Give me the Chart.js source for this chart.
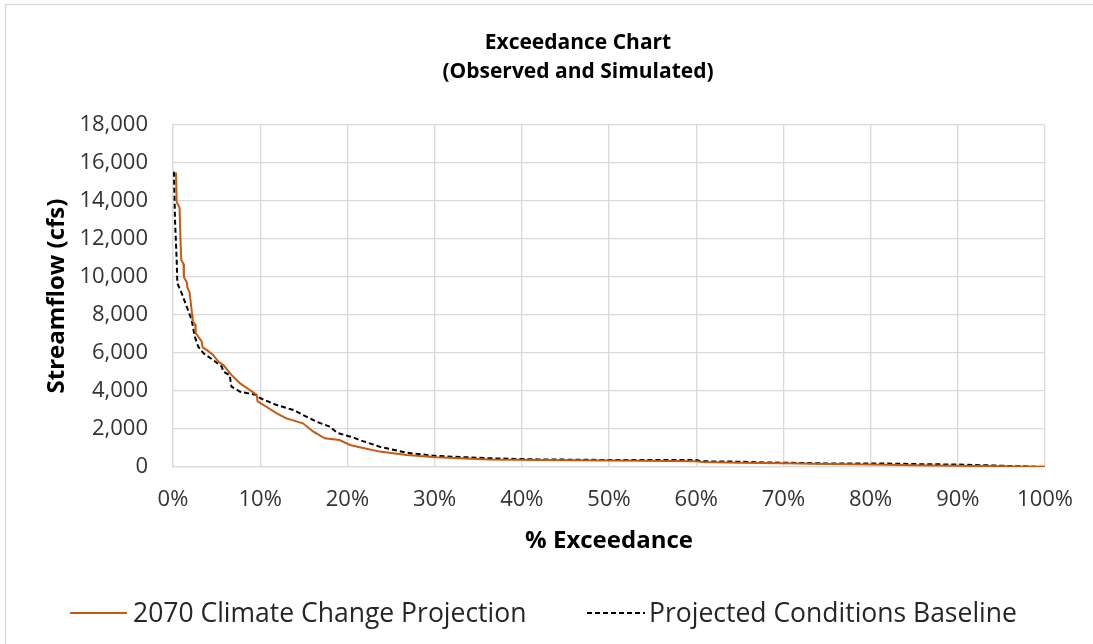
<!DOCTYPE html>
<html>
<head>
<title>Exceedance Chart</title>
<style>
  body { margin: 0; background: #fff; }
  #wrap { width: 1093px; height: 644px; }
</style>
</head>
<body>

<div id="wrap">
    <canvas id="myChart" width="1093" height="644"></canvas>
</div>

<script src="https://cdn.jsdelivr.net/npm/chart.js"></script>

<script>

    // % exceedance and streamflow (cfs)
    const climateX = [0.34, 0.42, 0.75, 0.85, 0.95, 1.2, 1.25, 1.6, 1.65, 1.9, 2.2, 2.25, 2.55, 2.6, 3.3, 3.4, 3.9, 4.6, 5.2, 5.8, 6.7, 7.7, 8.8, 9.6, 9.7, 10.7, 11.9, 13.0, 14.9, 16.1, 17.4, 19.1, 20.3, 21.8, 23.7, 26.8, 30.2, 36.3, 42, 53.5, 60, 60.7, 65, 70, 75, 80, 85, 90, 95, 100];
    const climateFlow = [15500, 13950, 13650, 12100, 10900, 10700, 10000, 9700, 9450, 9200, 8000, 7700, 7500, 7050, 6600, 6300, 6150, 5900, 5550, 5350, 4850, 4400, 4050, 3800, 3450, 3170, 2820, 2560, 2300, 1860, 1510, 1420, 1160, 1000, 810, 630, 510, 400, 370, 330, 300, 260, 230, 200, 160, 130, 90, 60, 40, 10];

    const baseX = [0.11, 0.23, 0.42, 0.5, 1.0, 1.57, 2.14, 2.5, 2.9, 3.5, 4.6, 5.6, 5.76, 6.5, 6.7, 7.7, 9.6, 10.0, 11.9, 13.8, 14.9, 16.5, 18.0, 18.8, 20.7, 21.4, 23.7, 26.8, 30.2, 36.3, 42, 49.7, 60, 60.7, 65, 67.2, 74.9, 81, 85.6, 90.1, 96.2, 100];
    const baseFlow = [15540, 13000, 10900, 9670, 9140, 8440, 7740, 6860, 6330, 5980, 5630, 5280, 5020, 4840, 4230, 3960, 3790, 3620, 3260, 3000, 2740, 2380, 2120, 1800, 1550, 1420, 1070, 750, 580, 460, 400, 370, 370, 300, 280, 245, 190, 190, 150, 130, 50, 0];

    const seriesNames = ['2070 Climate Change Projection', 'Projected Conditions Baseline'];
    const titleLines = ['Exceedance Chart', '(Observed and Simulated)'];

    const FONT = "'Open Sans', Lato, sans-serif";
    const GRID = '#d9d9d9';

    function toPoints(xs, ys) {
        return xs.map((x, i) => ({ x: x, y: ys[i] }));
    }

    // frame, title and legend, drawn like the spreadsheet does
    const decor = {
        id: 'decor',
        beforeDraw(chart) {
            const c = chart.ctx;
            c.save();
            c.strokeStyle = GRID;
            c.lineWidth = 1.3;
            c.strokeRect(5.5, 4.5, 2000, 2000);
            c.restore();
        },
        afterDraw(chart) {
            const c = chart.ctx;
            c.save();
            c.fillStyle = '#000';
            c.textAlign = 'center';
            c.textBaseline = 'middle';
            c.font = 'bold 21px ' + FONT;
            c.fillText(titleLines[0], 578, 43);
            c.fillText(titleLines[1], 578, 72);

            const items = [
                { x0: 70, x1: 127, tx: 133 },
                { x0: 587, x1: 645, tx: 649 }
            ];
            c.font = '26.5px ' + FONT;
            c.textAlign = 'left';
            chart.data.datasets.forEach((ds, i) => {
                const it = items[i];
                c.strokeStyle = ds.borderColor;
                c.lineWidth = ds.borderWidth;
                c.setLineDash(ds.borderDash || []);
                c.beginPath();
                c.moveTo(it.x0, 613);
                c.lineTo(it.x1, 613);
                c.stroke();
                c.setLineDash([]);
                c.fillStyle = '#262626';
                c.fillText(ds.label, it.tx, 614);
            });
            c.restore();
        }
    };

    const ctx = document.getElementById('myChart');

    const data = {
        datasets: [
            {
            label: seriesNames[0],
            data: toPoints(climateX, climateFlow),
            borderColor: '#c55a11',
            borderWidth: 2,
            pointRadius: 0,
            tension: 0
            },
            {
            label: seriesNames[1],
            data: toPoints(baseX, baseFlow),
            borderColor: '#000000',
            borderWidth: 2,
            borderDash: [5, 3],
            pointRadius: 0,
            tension: 0
            }
        ]
    };

    const config = {
        type: 'line',
        data: data,
        plugins: [decor],
        options: {
            responsive: false,
            animation: false,
            layout: {
                padding: { left: 10, right: 47, top: 125, bottom: 88 }
            },
            scales: {
                x: {
                    type: 'linear',
                    position: 'bottom',
                    min: 0,
                    max: 100,
                    afterFit: (s) => { s.height = 89; },
                    ticks: {
                        stepSize: 10,
                        padding: 20,
                        color: '#333333',
                        font: { family: FONT, size: 22 },
                        callback: (v) => v + '%'
                    },
                    grid: { color: GRID, lineWidth: 1.3, drawTicks: false },
                    border: { color: GRID, width: 1.3 },
                    title: {
                        display: true,
                        text: '% Exceedance',
                        color: '#000',
                        padding: 0,
                        font: { family: FONT, size: 24, weight: 'bold' }
                    }
                },
                y: {
                    type: 'linear',
                    position: 'left',
                    min: 0,
                    max: 18000,
                    afterFit: (s) => { s.width = 163; },
                    ticks: {
                        stepSize: 2000,
                        padding: 25,
                        color: '#333333',
                        font: { family: FONT, size: 22 },
                        callback: (v) => v.toLocaleString('en-US')
                    },
                    grid: { color: GRID, lineWidth: 1.3, drawTicks: false },
                    border: { color: GRID, width: 1.3 },
                    title: {
                        display: true,
                        text: 'Streamflow (cfs)',
                        color: '#000',
                        padding: { top: 33, bottom: 0 },
                        font: { family: FONT, size: 24, weight: 'bold' }
                    }
                }
            },
            plugins: {
                legend: { display: false },
                title: { display: false },
                tooltip: { enabled: false }
            }
        }
    };

    new Chart(ctx, config);

</script>

</body>
</html>
